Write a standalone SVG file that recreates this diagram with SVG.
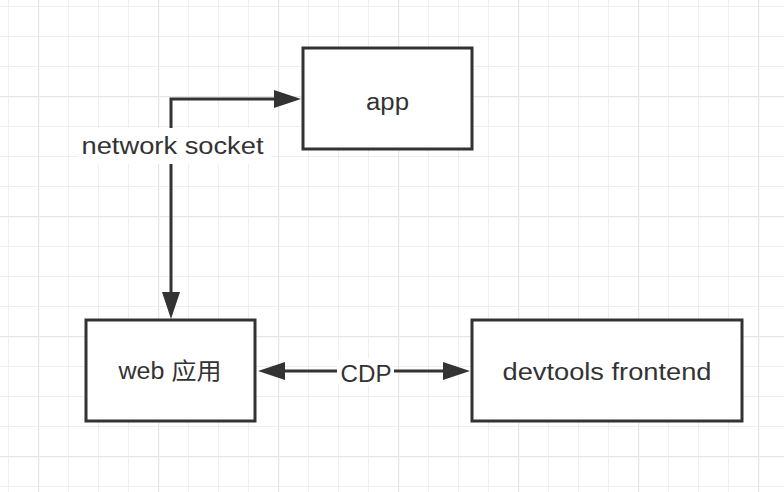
<svg xmlns="http://www.w3.org/2000/svg" width="784" height="492" viewBox="0 0 784 492">
  <style>
    .box { fill: #ffffff; stroke: #333333; stroke-width: 3; }
    .lbl { font-family: "Liberation Sans", "Noto Sans CJK SC", sans-serif; font-size: 23px; fill: #333333; text-anchor: middle; }
    .edge { fill: none; stroke: #333333; stroke-width: 3; stroke-linejoin: miter; marker-start: url(#arr); marker-end: url(#arr); }
    .bg { fill: #ffffff; }
  </style>
  <defs>
    <pattern id="minor" width="30" height="30" patternUnits="userSpaceOnUse" x="8" y="6">
      <path d="M0.5 0V30M0 0.5H30" fill="none" stroke="#efefef" stroke-width="1"/>
    </pattern>
    <pattern id="major" width="120" height="120" patternUnits="userSpaceOnUse" x="38" y="96">
      <path d="M0.5 0V120M0 0.5H120" fill="none" stroke="#e6e6e6" stroke-width="1.5"/>
    </pattern>
    <marker id="arr" viewBox="0 0 27 18" refX="17" refY="9" markerWidth="27" markerHeight="18" markerUnits="userSpaceOnUse" orient="auto-start-reverse">
      <path d="M0 0L27 9L0 18z" fill="#333333"/>
    </marker>
  </defs>
  <rect width="784" height="492" fill="#ffffff"/>
  <rect width="784" height="492" fill="url(#minor)"/>
  <rect width="784" height="492" fill="url(#major)"/>

  <g id="connectors">
    <path class="edge" d="M171 309V99H291"/>
    <rect class="bg" x="78" y="128" width="193" height="36"/>
    <text class="lbl" x="172.5" y="153.5" textLength="182" lengthAdjust="spacingAndGlyphs">network socket</text>
    <path class="edge" d="M268 371H460"/>
    <rect class="bg" x="337" y="358" width="57" height="27"/>
    <text class="lbl" x="366" y="381.5" textLength="51" lengthAdjust="spacingAndGlyphs">CDP</text>
  </g>

  <g id="app">
    <rect class="box" x="303" y="48" width="169" height="101"/>
    <text class="lbl" x="387.5" y="109.5" textLength="43" lengthAdjust="spacingAndGlyphs">app</text>
  </g>

  <g id="web">
    <rect class="box" x="86" y="320" width="169" height="101"/>
    <text class="lbl" x="170" y="379" textLength="103" lengthAdjust="spacingAndGlyphs">web 应用</text>
  </g>

  <g id="devtools">
    <rect class="box" x="472" y="320" width="270" height="101"/>
    <text class="lbl" x="607" y="379.5" textLength="209" lengthAdjust="spacingAndGlyphs">devtools frontend</text>
  </g>
</svg>
